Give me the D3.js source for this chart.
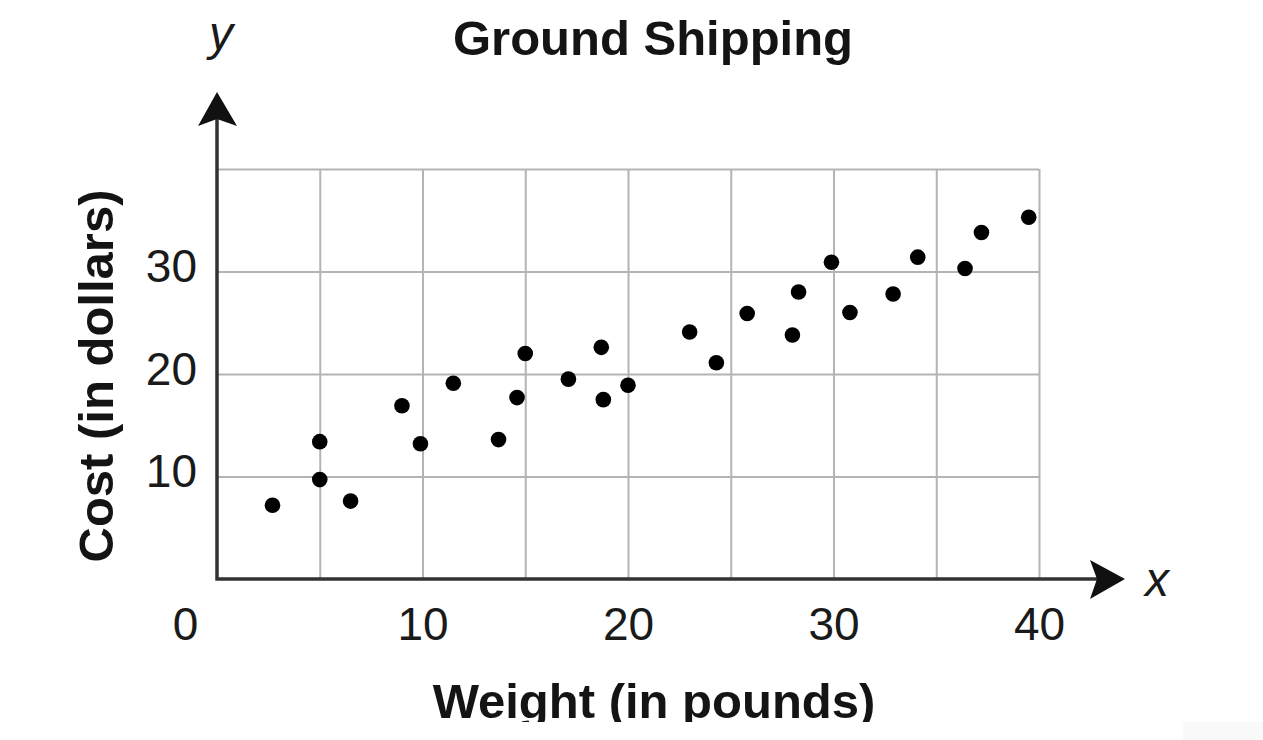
<!DOCTYPE html>
<html>
<head>
<meta charset="utf-8">
<script src="https://cdn.jsdelivr.net/npm/d3@7"></script>
<style>
  html, body { margin: 0; padding: 0; background: #fff; }
  svg { display: block; font-family: 'Liberation Sans', Arial, sans-serif; }
  .grid line { stroke: #b4b4b4; stroke-width: 2; }
  .tick-label text { fill: #1a1a1a; font-size: 46px; }
  .title, .label { fill: #141414; font-size: 49px; font-weight: bold; }
  .var { fill: #1a1a1a; font-size: 48px; font-style: italic; }
</style>
</head>
<body>
<svg id="chart"></svg>
<script>
// Weights (pounds) and costs (dollars).
const weights = [ 2.7, 5.0, 5.0, 6.5, 9.0, 9.9, 11.5, 13.7, 14.6, 15.0, 17.1, 18.7, 18.8,
                  20.0, 23.0, 24.3, 25.8, 28.0, 28.3, 29.9, 30.8, 32.9, 34.1, 36.4, 37.2, 39.5 ];
const costs   = [ 7.2, 13.4, 9.7, 7.6, 16.9, 13.2, 19.1, 13.6, 17.7, 22.0, 19.5, 22.6, 17.5,
                  18.9, 24.1, 21.1, 25.9, 23.8, 28.0, 30.9, 26.0, 27.8, 31.4, 30.3, 33.8, 35.3 ];

// Grid and tick values.
const gridX   = [ 5, 10, 15, 20, 25, 30, 35, 40 ];
const gridY   = [ 10, 20, 30, 40 ];
const xLabels = [ 0, 10, 20, 30, 40 ];
const yLabels = [ 10, 20, 30 ];

class ChartBuilder {

  constructor ( ) {
    this.width   = 1263;
    this.height  = 740;
    this.left    = 217;
    this.right   = 1039;
    this.top     = 169;
    this.bottom  = 579;
    this.points  = weights.map( ( w, i ) => ( { x: w, y: costs[i] } ) );

    this.chart   = d3.select( '#chart' );
    this.and     = this;
  }

  makeCanvas ( ) {
    this.chart.attr( 'width', this.width ).attr( 'height', this.height );
    return this;
  }

  setScales ( ) {
    this.x = d3.scaleLinear( ).domain( [ 0, 40 ] ).range( [ this.left, this.right ] );
    this.y = d3.scaleLinear( ).domain( [ 0, 40 ] ).range( [ this.bottom, this.top ] );
    return this;
  }

  // Light grey grid, including the top and right borders.
  drawGrid ( ) {
    const innerW = this.right - this.left;
    const innerH = this.bottom - this.top;
    this.chart.append( 'g' )
      .attr( 'class', 'grid' )
      .attr( 'transform', `translate( 0, ${this.bottom} )` )
      .call( d3.axisBottom( this.x ).tickValues( gridX ).tickSize( -innerH ).tickFormat( '' ) )
      .call( g => g.select( '.domain' ).remove( ) );
    this.chart.append( 'g' )
      .attr( 'class', 'grid' )
      .attr( 'transform', `translate( ${this.left}, 0 )` )
      .call( d3.axisLeft( this.y ).tickValues( gridY ).tickSize( -innerW ).tickFormat( '' ) )
      .call( g => g.select( '.domain' ).remove( ) );
    return this;
  }

  // Tick numbers; the 0 sits under the corner, shifted left.
  drawLabels ( ) {
    this.chart.append( 'g' )
      .attr( 'class', 'tick-label' )
      .attr( 'transform', `translate( 0, ${this.bottom} )` )
      .call( d3.axisBottom( this.x ).tickValues( xLabels ).tickSize( 0 ).tickPadding( 28 ) )
      .call( g => g.select( '.domain' ).remove( ) )
      .call( g => g.selectAll( '.tick' ).filter( d => d === 0 ).select( 'text' ).attr( 'x', -32 ) )
      .attr( 'font-family', null ).attr( 'font-size', null );
    this.chart.append( 'g' )
      .attr( 'class', 'tick-label' )
      .attr( 'transform', `translate( ${this.left}, 0 )` )
      .call( d3.axisLeft( this.y ).tickValues( yLabels ).tickSize( 0 ).tickPadding( 20 ) )
      .call( g => g.select( '.domain' ).remove( ) )
      .call( g => g.selectAll( '.tick text' ).attr( 'dy', '0.22em' ) )
      .attr( 'font-family', null ).attr( 'font-size', null );
    return this;
  }

  // Dark axis lines with arrow heads.
  drawAxes ( ) {
    const x0 = this.x( 0 ), y0 = this.y( 0 );
    const axes = this.chart.append( 'g' ).attr( 'fill', '#111' ).attr( 'stroke', '#333' );
    axes.append( 'path' )
      .attr( 'd', `M${x0},${y0 + 1.5}V110M${x0 - 1.5},${y0}H1110` )
      .attr( 'fill', 'none' )
      .attr( 'stroke-width', 3.5 );
    axes.append( 'path' )
      .attr( 'stroke', 'none' )
      .attr( 'd', `M${x0},92L${x0 + 20},126L${x0},119L${x0 - 19},126Z` );
    axes.append( 'path' )
      .attr( 'stroke', 'none' )
      .attr( 'd', `M1125,${y0}L1090,${y0 + 20}L1097,${y0}L1090,${y0 - 19}Z` );
    return this;
  }

  drawDots ( ) {
    this.chart.append( 'g' ).selectAll( 'circle' )
      .data( this.points )
      .enter( )
      .append( 'circle' )
        .attr( 'cx'  , d => this.x( d.x ) )
        .attr( 'cy'  , d => this.y( d.y ) )
        .attr( 'r'   , 7.8 )
        .attr( 'fill', '#000' );
    return this;
  }

  drawTexts ( ) {
    this.chart.append( 'text' )
      .attr( 'class', 'title' )
      .attr( 'x', 653 ).attr( 'y', 55 )
      .attr( 'text-anchor', 'middle' )
      .text( 'Ground Shipping' );
    this.chart.append( 'text' )
      .attr( 'class', 'label' )
      .attr( 'transform', 'translate( 113, 376 ) rotate( -90 )' )
      .attr( 'text-anchor', 'middle' )
      .text( 'Cost (in dollars)' );
    this.chart.append( 'text' )
      .attr( 'class', 'label' )
      .attr( 'x', 654 ).attr( 'y', 718 )
      .attr( 'text-anchor', 'middle' )
      .text( 'Weight (in pounds)' );
    this.chart.append( 'text' )
      .attr( 'class', 'var' )
      .attr( 'x', 221 ).attr( 'y', 50 )
      .attr( 'text-anchor', 'middle' )
      .text( 'y' );
    this.chart.append( 'text' )
      .attr( 'class', 'var' )
      .attr( 'x', 1157 ).attr( 'y', 596 )
      .attr( 'text-anchor', 'middle' )
      .text( 'x' );
    return this;
  }

  // The source picture is cut off along the bottom.
  cropBottom ( ) {
    this.chart.append( 'rect' )
      .attr( 'x', 0 ).attr( 'y', 722 )
      .attr( 'width', 1183 ).attr( 'height', 18 )
      .attr( 'fill', '#fff' );
    this.chart.append( 'rect' )
      .attr( 'x', 1183 ).attr( 'y', 722 )
      .attr( 'width', 80 ).attr( 'height', 18 )
      .attr( 'fill', '#f9f9f9' );
    return this;
  }

}

const getTheChart = new ChartBuilder( );
getTheChart.makeCanvas( ).setScales( ).drawGrid( ).drawLabels( ).drawAxes( ).drawDots( ).drawTexts( ).and.cropBottom( );
</script>
</body>
</html>
